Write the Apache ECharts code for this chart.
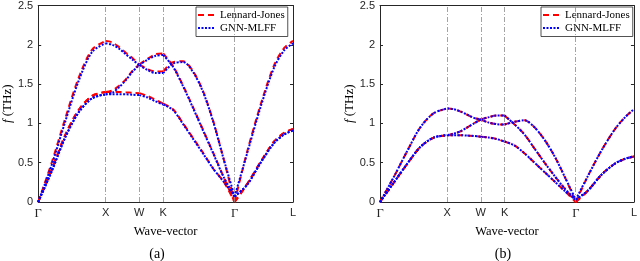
<!DOCTYPE html>
<html>
<head>
<meta charset="utf-8">
<script src="https://cdn.jsdelivr.net/npm/echarts@6/dist/echarts.min.js"></script>
<style>html,body{margin:0;padding:0;background:#fff}#c{width:640px;height:261px}</style>
</head>
<body>
<div id="c"></div>
<script>
// High-symmetry points along the wave-vector path
const kTicks = [0, 1, 1.5, 1.854, 2.914, 3.78];
const kLabels = ['Γ', 'X', 'W', 'K', 'Γ', 'L'];
// Sample wave-vector positions
const kGrid = [0, 0.2, 0.4, 0.6, 0.8, 1.0, 1.1, 1.2, 1.3, 1.4, 1.5, 1.62, 1.74, 1.854,
  2.0, 2.15, 2.3, 2.45, 2.6, 2.75, 2.914, 3.1, 3.3, 3.5, 3.65, 3.78];
const yTicks = [0, 0.5, 1, 1.5, 2, 2.5];
const seriesNames = ['Lennard-Jones', 'GNN-MLFF'];

// Panel (a)
const aLJ1 = [0,0.41,0.85,1.17,1.35,1.40, 1.40,1.40,1.395,1.39,1.385, 1.35,1.30,1.25, 1.18,1.00,0.81,0.62,0.42,0.26,0, 0.23,0.51,0.77,0.88,0.93];
const aLJ2 = [0,0.41,0.85,1.17,1.35,1.40, 1.42,1.48,1.56,1.67,1.75, 1.82,1.88,1.89, 1.73,1.48,1.20,0.91,0.62,0.32,0, 0.23,0.51,0.77,0.88,0.93];
const aLJ3 = [0,0.50,1.06,1.58,1.94,2.05, 2.03,1.97,1.90,1.83,1.75, 1.69,1.66,1.66, 1.78,1.79,1.66,1.40,1.02,0.55,0, 0.64,1.24,1.74,1.96,2.05];
const aGNN1 = [0,0.39,0.82,1.14,1.32,1.37, 1.37,1.37,1.37,1.365,1.36, 1.33,1.28,1.24, 1.17,0.99,0.80,0.61,0.42,0.26,0.07, 0.22,0.50,0.75,0.86,0.91];
const aGNN2 = [0,0.39,0.82,1.14,1.32,1.37, 1.39,1.46,1.55,1.66,1.74, 1.81,1.86,1.87, 1.72,1.47,1.19,0.90,0.61,0.32,0.07, 0.22,0.50,0.75,0.86,0.91];
const aGNN3 = [0,0.47,1.02,1.54,1.91,2.02, 2.00,1.95,1.88,1.81,1.74, 1.68,1.64,1.64, 1.76,1.78,1.65,1.39,1.01,0.55,0.07, 0.62,1.21,1.71,1.93,2.02];

// Panel (b)
const bLJ1 = [0,0.24,0.48,0.70,0.82,0.85, 0.85,0.85,0.845,0.84,0.83, 0.82,0.80,0.77, 0.72,0.62,0.50,0.38,0.26,0.14,0, 0.15,0.35,0.49,0.55,0.58];
const bLJ2 = [0,0.24,0.48,0.70,0.82,0.85, 0.87,0.90,0.95,1.00,1.05, 1.08,1.10,1.10, 0.99,0.86,0.68,0.50,0.33,0.17,0, 0.15,0.35,0.49,0.55,0.58];
const bLJ3 = [0,0.31,0.64,0.95,1.13,1.19, 1.18,1.15,1.11,1.07,1.05, 1.01,0.99,0.985, 1.02,1.04,0.95,0.79,0.58,0.32,0, 0.34,0.66,0.93,1.08,1.18];
const bGNN1 = [0,0.24,0.48,0.70,0.82,0.85, 0.85,0.85,0.845,0.84,0.83, 0.82,0.80,0.77, 0.72,0.62,0.50,0.38,0.26,0.14,0.03, 0.15,0.35,0.49,0.55,0.58];
const bGNN2 = [0,0.24,0.48,0.70,0.82,0.85, 0.87,0.90,0.95,1.00,1.05, 1.08,1.10,1.10, 0.99,0.86,0.68,0.50,0.33,0.17,0.03, 0.15,0.35,0.49,0.55,0.58];
const bGNN3 = [0,0.31,0.64,0.95,1.13,1.19, 1.18,1.15,1.11,1.07,1.05, 1.01,0.99,0.985, 1.02,1.04,0.95,0.79,0.58,0.32,0.03, 0.34,0.66,0.93,1.08,1.18];

const panels = [
  { lj: [aLJ1, aLJ2, aLJ3], gnn: [aGNN1, aGNN2, aGNN3], grid: {left: 35, top: 3, width: 258, height: 199}, tag: '(a)', tagX: 157, legendLeft: 196 },
  { lj: [bLJ1, bLJ2, bLJ3], gnn: [bGNN1, bGNN2, bGNN3], grid: {left: 380, top: 3, width: 257, height: 199}, tag: '(b)', tagX: 503, legendLeft: 541 }
];

const SERIF = '"Liberation Serif", "Times New Roman", serif';
const SANS = '"Liberation Sans", Arial, Helvetica, sans-serif';
const AX = '#262626';
const RED = '#ff0000', BLUE = '#0000ff';

const styleLJ = { color: RED, width: 2, type: [6, 4], cap: 'butt' };
const styleGNN = { color: BLUE, width: 2, type: [2, 1.5], cap: 'butt' };

function labelFmt(v) {
  let idx = kTicks.findIndex(t => Math.abs(t - v) < 1e-6);
  if (idx < 0) return '';
  const lab = kLabels[idx];
  return lab === 'Γ' ? '{g|Γ}' : lab;
}

const grids = [], xAxes = [], yAxes = [], series = [], legends = [], graphics = [];

panels.forEach((p, gi) => {
  grids.push(Object.assign({ containLabel: false }, p.grid));
  xAxes.push({
    type: 'value', gridIndex: gi, min: 0, max: 3.78, position: 'bottom',
    axisLine: { show: true, onZero: false, lineStyle: { color: AX, width: 1 } },
    axisTick: { show: false },
    splitLine: { show: false },
    axisLabel: {
      customValues: kTicks, formatter: labelFmt, margin: 5,
      color: AX, fontFamily: SANS, fontSize: 11,
      rich: { g: { fontFamily: SERIF, fontSize: 12.5, color: AX } }
    },
    name: 'Wave-vector', nameLocation: 'middle', nameGap: 18,
    nameTextStyle: { fontFamily: SERIF, fontSize: 12.5, color: '#000' }
  });
  xAxes.push({
    type: 'value', gridIndex: gi, min: 0, max: 3.78, position: 'top',
    axisLine: { show: true, onZero: false, lineStyle: { color: AX, width: 1 } },
    axisTick: { show: false }, axisLabel: { show: false }, splitLine: { show: false }
  });
  yAxes.push({
    type: 'value', gridIndex: gi, min: 0, max: 2.5, interval: 0.5, position: 'left',
    axisLine: { show: true, onZero: false, lineStyle: { color: AX, width: 1 } },
    axisTick: { show: true, inside: true, length: 3, lineStyle: { color: AX } },
    splitLine: { show: false },
    axisLabel: { margin: 5, color: AX, fontFamily: SANS, fontSize: 11 },
    name: '{i|f} (THz)', nameLocation: 'middle', nameGap: 15, nameRotate: 90,
    nameTextStyle: { fontFamily: SERIF, fontSize: 13, color: '#000',
      rich: { i: { fontFamily: SERIF, fontSize: 13, fontStyle: 'italic', color: '#000' } } }
  });
  yAxes.push({
    type: 'value', gridIndex: gi, min: 0, max: 2.5, interval: 0.5, position: 'right',
    axisLine: { show: true, onZero: false, lineStyle: { color: AX, width: 1 } },
    axisTick: { show: true, inside: true, length: 3, lineStyle: { color: AX } },
    axisLabel: { show: false }, splitLine: { show: false }
  });

  // vertical guide lines at interior high-symmetry points
  series.push({
    type: 'line', xAxisIndex: gi * 2, yAxisIndex: gi * 2, data: [], silent: true,
    markLine: {
      silent: true, symbol: ['none', 'none'], label: { show: false },
      emphasis: { disabled: true },
      lineStyle: { color: '#8c8c8c', width: 0.8, type: [5, 2, 1, 2] },
      data: kTicks.slice(1, kTicks.length - 1).map(v => ({ xAxis: v }))
    }
  });

  const addModel = (branches, name, ls) => {
    branches.forEach(br => {
      for (let s = 0; s < kTicks.length - 1; s++) {
        const pts = [];
        kGrid.forEach((k, i) => {
          if (k >= kTicks[s] - 1e-9 && k <= kTicks[s + 1] + 1e-9) pts.push([k, br[i]]);
        });
        series.push({
          type: 'line', name: name, xAxisIndex: gi * 2, yAxisIndex: gi * 2,
          data: pts, smooth: 0.3, symbol: 'none', showSymbol: false,
          itemStyle: { color: ls.color },
          lineStyle: ls, silent: true, emphasis: { disabled: true }
        });
      }
    });
  };
  addModel(p.lj, seriesNames[0], styleLJ);
  addModel(p.gnn, seriesNames[1], styleGNN);

  legends.push({
    left: p.legendLeft, top: 7, orient: 'vertical',
    data: [
      { name: seriesNames[0], itemStyle: { color: 'rgba(0,0,0,0)', borderWidth: 0, opacity: 0 }, lineStyle: { color: RED, width: 2, type: [6, 4], opacity: 1 } },
      { name: seriesNames[1], itemStyle: { color: 'rgba(0,0,0,0)', borderWidth: 0, opacity: 0 }, lineStyle: { color: BLUE, width: 2, type: [2, 1.5], opacity: 1 } }
    ],
    itemWidth: 17, itemHeight: 11, itemGap: 2, padding: [2.5, 3, 3, 1],
    borderColor: AX, borderWidth: 0.8, backgroundColor: '#fff', selectedMode: false,
    textStyle: { fontFamily: SERIF, fontSize: 11, color: '#000' }
  });

  graphics.push({
    type: 'text', x: p.tagX, y: 254,
    style: { text: p.tag, fill: '#000', font: '14px ' + SERIF, align: 'center', verticalAlign: 'middle', textAlign: 'center', textVerticalAlign: 'middle' }
  });
});

const chart = echarts.init(document.getElementById('c'), null, { renderer: 'canvas' });
chart.setOption({
  animation: false,
  backgroundColor: '#fff',
  grid: grids, xAxis: xAxes, yAxis: yAxes, series: series,
  legend: legends, graphic: graphics
});
</script>
</body>
</html>
